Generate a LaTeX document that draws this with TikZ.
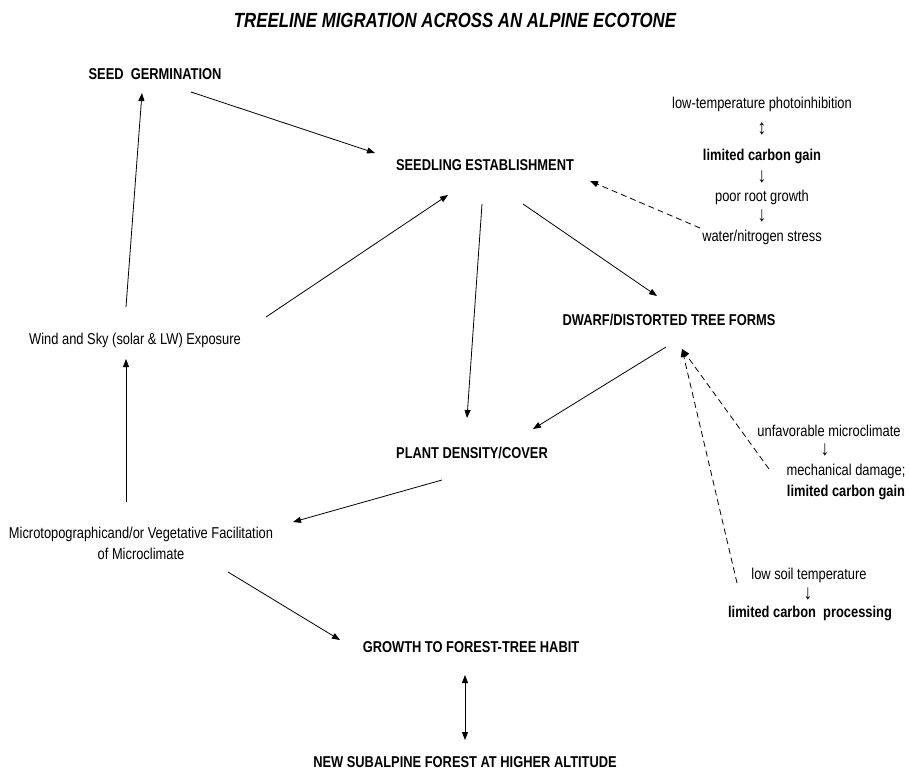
\documentclass[tikz,border=0pt]{standalone}
\usepackage{fontspec}
\setmainfont{Liberation Sans}[FakeStretch=0.82]
\usetikzlibrary{arrows.meta}

\begin{document}
\begin{tikzpicture}[x=1pt,y=-1pt,
  every node/.style={inner sep=0pt,font=\fontsize{15.7}{21}\selectfont},
  key/.style={font=\fontsize{15.7}{21}\selectfont\bfseries},
  glyph/.style={font=\fontsize{21}{21}\selectfont},
  arr/.style={-{Triangle[length=8pt,width=6pt]},line width=0.8pt},
  twoway/.style={{Triangle[length=8pt,width=6pt]}-{Triangle[length=8pt,width=6pt]},line width=0.8pt},
  hint/.style={arr,dash pattern=on 6pt off 4pt}]
\useasboundingbox (0,0) rectangle (910,772);

\node (title) at (455,20) {\fontsize{20.5}{22}\selectfont\bfseries\itshape TREELINE MIGRATION ACROSS AN ALPINE ECOTONE};

% main chain
\node[key] (seed)      at (155,74)  {SEED\ \ GERMINATION};
\node[key] (seedling)  at (485,165) {SEEDLING ESTABLISHMENT};
\node      (wind)      at (135,340) {Wind and Sky (solar \& LW) Exposure};
\node[key] (dwarf)     at (669,320) {DWARF/DISTORTED TREE FORMS};
\node[key] (plant)     at (472,453) {PLANT DENSITY/COVER};
\node[align=center] (micro) at (141,543) {Microtopographicand/or Vegetative Facilitation\\of Microclimate};
\node[key] (growth)    at (471,647) {GROWTH TO FOREST-TREE HABIT};
\node[key] (newforest) at (465,762) {NEW SUBALPINE FOREST AT HIGHER ALTITUDE};

% constraints on establishment
\node (photo) at (762,104) {low-temperature photoinhibition};
\node[glyph] (upd1) at (762,129) {↕};
\node[key] (gain1) at (762,156) {limited carbon gain};
\node[glyph] (dn1) at (762,177) {↓};
\node (root)  at (762,197) {poor root growth};
\node[glyph] (dn2) at (762,216) {↓};
\node (water) at (762,237) {water/nitrogen stress};

% constraints on tree form
\node (unfav) at (829,431) {unfavorable microclimate};
\node[glyph] (dn3) at (825,450) {↓};
\node[align=center] (mech) at (846,482) {mechanical damage;\\\textbf{limited carbon gain}};
\node (soil)  at (809,575) {low soil temperature};
\node[glyph] (dn4) at (808,594) {↓};
\node[key] (proc) at (810,613) {limited carbon\ \ processing};

\draw[arr] ([shift={(-9,-33)}]wind.center) -- ([shift={(-13,19)}]seed.center);
\draw[arr] ([shift={(36,18)}]seed.center) -- ([shift={(-110,-12)}]seedling.center);
\draw[arr] ([shift={(131,-23)}]wind.center) -- ([shift={(-37,30)}]seedling.center);
\draw[arr] ([shift={(-3,39)}]seedling.center) -- ([shift={(-5,-35)}]plant.center);
\draw[arr] ([shift={(38,39)}]seedling.center) -- ([shift={(-12,-24)}]dwarf.center);
\draw[arr] ([shift={(-3,27)}]dwarf.center) -- ([shift={(61,-24)}]plant.center);
\draw[arr] ([shift={(-30,27)}]plant.center) -- ([shift={(152,-21)}]micro.center);
\draw[arr] ([shift={(-15,-41)}]micro.center) -- ([shift={(-9,19)}]wind.center);
\draw[arr] ([shift={(87,29)}]micro.center) -- ([shift={(-131,-7)}]growth.center);
\draw[twoway] ([shift={(-6,28)}]growth.center) -- ([shift={(0,-22)}]newforest.center);

\draw[hint] ([shift={(-62,-9)}]water.center) -- ([shift={(105,16)}]seedling.center);
\draw[hint] ([shift={(-77,-13)}]mech.center) -- ([shift={(13,29)}]dwarf.center);
\draw[hint] ([shift={(-72,8)}]soil.center) -- ([shift={(13,29)}]dwarf.center);

\end{tikzpicture}
\end{document}
